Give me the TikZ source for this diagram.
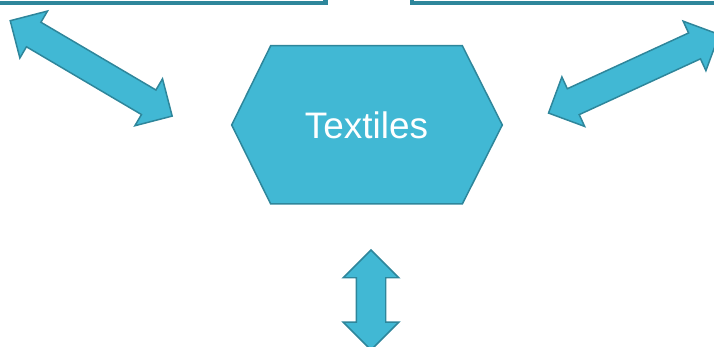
\documentclass[tikz,border=0pt]{standalone}
\usepackage{fontspec}
\setmainfont{Liberation Sans}
\usepackage{tikz}
\usetikzlibrary{shapes.arrows}
\definecolor{tealfill}{RGB}{65,184,212}
\definecolor{tealline}{RGB}{46,134,155}

\begin{document}
\begin{tikzpicture}[x=0.02cm,y=-0.02cm,
  blockarrow/.style={double arrow,draw=tealline,fill=tealfill,line width=0.85pt,inner xsep=0pt,inner ysep=0.27cm,double arrow head extend=0.26cm,double arrow tip angle=90},
  outerbox/.style={draw=tealline,line width=2.5pt,fill=white}]
\useasboundingbox (0,0) rectangle (714,347);
\draw[outerbox] (-20,-60) rectangle (325.5,3.3);
\draw[outerbox] (412,-60) rectangle (734,3.3);
\fill[tealfill,draw=tealline,line width=0.85pt] (231.7,125)--(270.7,45.7)--(462.3,45.7)--(502.3,125)--(462.3,204)--(270.7,204)--cycle;
\node[text=white,font=\fontsize{21}{25}\selectfont] (textiles) at (366.5,125) {Textiles};
\node[blockarrow,rotate=-30.5,minimum height=3.76cm] (arrleft) at (91.2,68.4) {};
\node[blockarrow,rotate=24.7,minimum height=3.76cm] (arrright) at (633.9,73.8) {};
\node[blockarrow,rotate=90,minimum height=2cm,inner ysep=0.28cm] (arrdown) at (371,300) {};
\end{tikzpicture}
\end{document}
